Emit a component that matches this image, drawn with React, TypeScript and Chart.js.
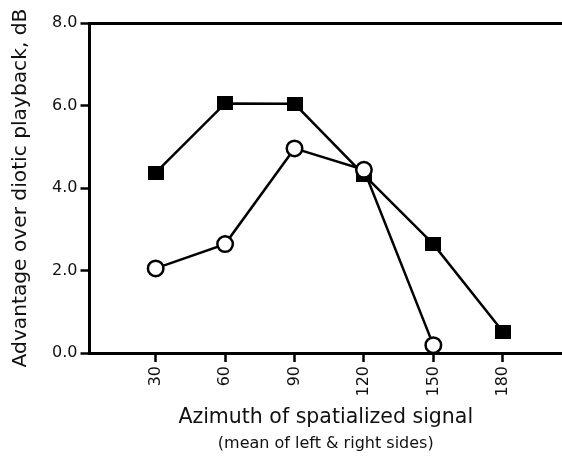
import { useEffect, useRef } from 'react';
import { Chart, registerables } from 'chart.js';

Chart.register(...registerables);

// ---- data ----
const squareAzimuths = [30, 60, 90, 120, 150, 180];
const squareValues = [4.37, 6.05, 6.04, 4.32, 2.64, 0.52];
const circleAzimuths = [30, 60, 90, 120, 150];
const circleValues = [2.05, 2.64, 4.96, 4.44, 0.19];
const xTickValues = [30, 60, 90, 120, 150, 180];
const yTickValues = [0, 2, 4, 6, 8];
const xTitle = 'Azimuth of spatialized signal';
const xSubtitle = '(mean of left & right sides)';
const yTitle = 'Advantage over diotic playback, dB';

const FONT = '"DejaVu Sans", Verdana, sans-serif';
const INK = '#111';

function makeSquare(): HTMLCanvasElement {
  const c = document.createElement('canvas');
  c.width = 16;
  c.height = 14;
  const g = c.getContext('2d')!;
  g.fillStyle = '#000';
  g.fillRect(0, 0, 16, 14);
  return c;
}

export default function App() {
  const ref = useRef<HTMLCanvasElement>(null);

  useEffect(() => {
    if (!ref.current) return;
    const square = makeSquare();
    const chart = new Chart(ref.current, {
      type: 'line',
      data: {
        datasets: [
          {
            label: 'circles',
            data: circleAzimuths.map((x, i) => ({ x, y: circleValues[i] })),
            borderColor: '#000',
            borderWidth: 2.5,
            backgroundColor: '#fff',
            pointStyle: 'circle',
            pointRadius: 7.75,
            pointBorderWidth: 2.5,
            pointBorderColor: '#000',
            pointBackgroundColor: '#fff',
            clip: false as any,
            order: 0,
          },
          {
            label: 'squares',
            data: squareAzimuths.map((x, i) => ({ x, y: squareValues[i] })),
            borderColor: '#000',
            borderWidth: 2.5,
            backgroundColor: '#000',
            pointStyle: square as any,
            pointRadius: 8,
            clip: false as any,
            order: 1,
          },
        ],
      },
      options: {
        animation: false,
        responsive: false,
        devicePixelRatio: 1,
        layout: { autoPadding: false, padding: { top: 23, right: 0, bottom: 3, left: 0 } },
        plugins: {
          legend: { display: false },
          tooltip: { enabled: false },
          title: {
            display: true,
            text: xSubtitle,
            position: 'bottom',
            fullSize: false,
            color: INK,
            font: { family: FONT, size: 16, weight: 'normal' },
            padding: { top: 0, bottom: 0 },
          },
        },
        scales: {
          x: {
            type: 'linear',
            min: 1.4,
            max: 205.6,
            afterBuildTicks: (s: any) => {
              s.ticks = xTickValues.map((v) => ({ value: v }));
            },
            afterFit: (s: any) => {
              s.height = 80.8;
              s.paddingLeft = 0;
              s.paddingRight = 0;
            },
            ticks: {
              autoSkip: false,
              minRotation: 90,
              maxRotation: 90,
              padding: 4,
              color: INK,
              font: { family: FONT, size: 16 },
              callback: (v: any) => String(v),
            },
            grid: {
              display: true,
              drawOnChartArea: false,
              drawTicks: true,
              tickLength: 9,
              tickColor: '#000',
              tickWidth: 2.5,
              color: '#000',
            },
            border: { display: true, color: '#000', width: 3 },
            title: {
              display: true,
              text: xTitle,
              color: INK,
              font: { family: FONT, size: 20.5 },
              padding: { top: 0, bottom: 4 },
            },
          },
          y: {
            type: 'linear',
            min: 0,
            max: 8,
            afterBuildTicks: (s: any) => {
              s.ticks = yTickValues.map((v) => ({ value: v }));
            },
            afterFit: (s: any) => {
              s.width = 89.5;
              s.paddingTop = 0;
              s.paddingBottom = 0;
            },
            ticks: {
              padding: 3,
              color: INK,
              font: { family: FONT, size: 16 },
              callback: (v: any) => Number(v).toFixed(1),
            },
            grid: {
              display: true,
              drawOnChartArea: true,
              drawTicks: true,
              tickLength: 9,
              tickColor: '#000',
              tickWidth: 2.5,
              color: (ctx: any) => (ctx.tick && ctx.tick.value === 8 ? '#000' : 'rgba(0,0,0,0)'),
              lineWidth: (ctx: any) => (ctx.tick && ctx.tick.value === 8 ? 3 : 1),
            },
            border: { display: true, color: '#000', width: 3 },
            title: {
              display: true,
              text: yTitle,
              color: INK,
              font: { family: FONT, size: 20.2 },
              padding: { top: 8.4, bottom: 0 },
            },
          },
        },
      },
    });
    return () => chart.destroy();
  }, []);

  return (
    <div style={{ position: 'absolute', left: 0, top: 0, width: 562, height: 456 }}>
      <canvas ref={ref} width={562} height={456} style={{ width: 562, height: 456, display: 'block' }} />
    </div>
  );
}
